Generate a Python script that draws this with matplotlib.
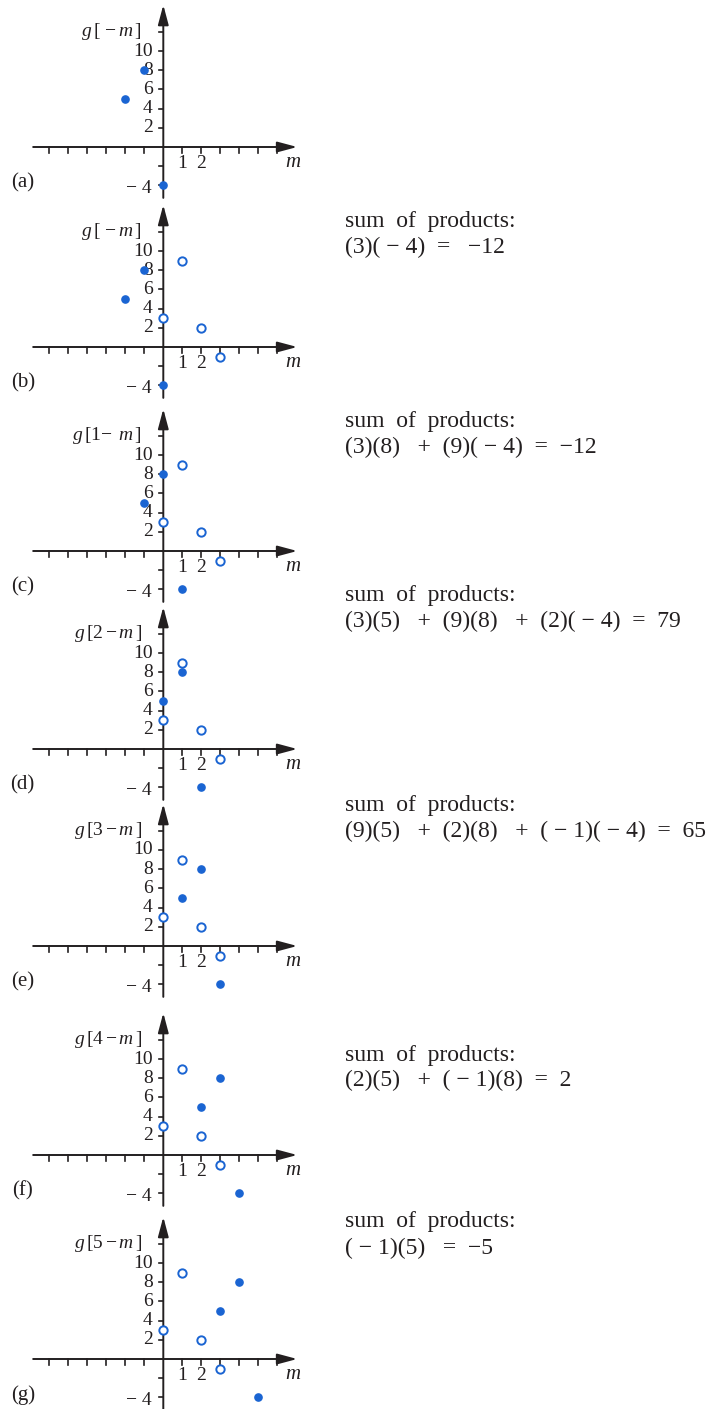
import numpy as np
import matplotlib
matplotlib.use("Agg")
import matplotlib.pyplot as plt

plt.rcParams["font.family"] = ["Liberation Serif", "DejaVu Serif"]
plt.rcParams["mathtext.fontset"] = "custom"
plt.rcParams["mathtext.rm"] = "Liberation Serif"
plt.rcParams["mathtext.it"] = "Liberation Serif:italic"

# -----------------------------
# Data
# -----------------------------
f_idx = [0, 1, 2, 3]
f_vals = [3, 9, 2, -1]
g_idx = [0, 1, 2]
g_vals = [-4, 8, 5]

shifts = [0, 0, 1, 2, 3, 4, 5]
show_f = [False, True, True, True, True, True, True]
panel_labels = ["(a)", "(b)", "(c)", "(d)", "(e)", "(f)", "(g)"]
y_labels = [
    r"$g\,[\,-m\,]$",
    r"$g\,[\,-m\,]$",
    r"$g\,[1\!-\;m\,]$",
    r"$g\,[2-m\,]$",
    r"$g\,[3-m\,]$",
    r"$g\,[4-m\,]$",
    r"$g\,[5-m\,]$",
]
sum_lines = [
    None,
    "(3)( \u2212 4)  =   \u221212",
    "(3)(8)   +  (9)( \u2212 4)  =  \u221212",
    "(3)(5)   +  (9)(8)   +  (2)( \u2212 4)  =  79",
    "(9)(5)   +  (2)(8)   +  ( \u2212 1)( \u2212 4)  =  65",
    "(2)(5)   +  ( \u2212 1)(8)  =  2",
    "( \u2212 1)(5)   =  \u22125",
]
y_tick_vals = [10, 8, 6, 4, 2]
x_tick_labels = ["1", "2"]

# -----------------------------
# Layout (pixels)
# -----------------------------
W, H = 711, 1409
origin_x = 163.3
origins_y = [147, 347, 551, 749, 946, 1155, 1359]
ux = 19.0   # px per unit m
uy = 9.6    # px per unit value
text_rows = [None, (221, 247), (421, 447), (595, 621),
             (806, 831), (1055, 1080), (1222, 1248)]

ink = "#231f20"
blue = "#1a64d2"

fig = plt.figure(figsize=(W / 100, H / 100), dpi=100)

for i in range(7):
    oy = origins_y[i]
    ax = fig.add_axes([0, 0, 1, 1])
    ax.set_xlim((0 - origin_x) / ux, (W - origin_x) / ux)
    ax.set_ylim((oy - H) / uy, oy / uy)
    ax.axis("off")
    ax.patch.set_alpha(0)

    # axes with arrows
    arrow = dict(arrowstyle="-|>,head_length=0.75,head_width=0.2",
                 color=ink, lw=1.4, mutation_scale=16, shrinkA=0, shrinkB=0)
    ax.annotate("", xy=(7.05, 0), xytext=(-6.85, 0), arrowprops=arrow)
    ax.annotate("", xy=(0, 14.8), xytext=(0, -5.3), arrowprops=arrow)

    # ticks
    for m in [-6, -5, -4, -3, -2, -1, 1, 2, 3, 4, 5, 6]:
        ax.plot([m, m], [0, -0.6], color=ink, lw=1.2)
    for v in [-4, -2, 2, 4, 6, 8, 10, 12]:
        ax.plot([0, -0.22], [v, v], color=ink, lw=1.2)

    # tick labels
    for v in y_tick_vals:
        ax.text(-0.55, v, str(v), ha="right", va="center", fontsize=14, color=ink)
    ax.text(-0.6, -4.3, "\u2212 4", ha="right", va="center", fontsize=14, color=ink)
    for k, lab in enumerate(x_tick_labels):
        ax.text(k + 1, -1.7, lab, ha="center", va="center", fontsize=14, color=ink)
    ax.text(6.83, -1.6, "m", ha="center", va="center", fontsize=15,
            style="italic", color=ink)
    ax.text(-7.4, -3.75, panel_labels[i], ha="center", va="center",
            fontsize=15, color=ink)
    ax.text(-1.1, 12.0, y_labels[i], ha="right", va="center", fontsize=14, color=ink)

    # g[n - m]: m = n - k
    gm = [shifts[i] - k for k in g_idx]
    ax.plot(gm, g_vals, "o", ms=5.2, color=blue, clip_on=False, zorder=5)

    if show_f[i]:
        ax.plot(f_idx, f_vals, "o", ms=6, mfc="white", mec=blue, mew=1.4,
                clip_on=False, zorder=4)

    if sum_lines[i] is not None:
        r1, r2 = text_rows[i]
        fig.text(345 / W, 1 - r1 / H, "sum  of  products:", ha="left",
                 va="center", fontsize=17, color=ink)
        fig.text(345 / W, 1 - r2 / H, sum_lines[i], ha="left",
                 va="center", fontsize=17, color=ink)

fig.savefig("out.png", dpi=100)
